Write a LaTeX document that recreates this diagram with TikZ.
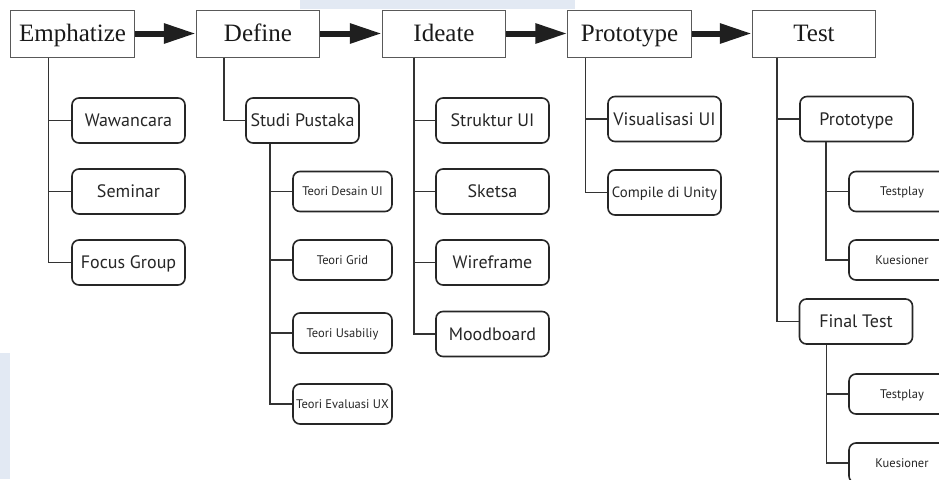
\documentclass[tikz,border=0pt]{standalone}
\usepackage{fontspec}
\setmainfont{Liberation Serif}
\newfontfamily\subfont{PT Sans}
\usetikzlibrary{arrows.meta}
\definecolor{wm}{RGB}{214,224,238}
\begin{document}
\begin{tikzpicture}[x=1pt,y=-1pt,
  phase/.style={draw=black!65, line width=1pt, fill=white, minimum height=47pt, minimum width=123.5pt, inner sep=0pt, text height=16.5pt, text depth=0pt, font=\fontsize{25}{25}\selectfont, text=black!90},
  sub/.style={draw=black!85, line width=1.6pt, rounded corners=7pt, fill=white, inner sep=0pt, text height=12.6pt, text depth=0pt, font=\subfont\fontsize{18}{18}\selectfont, text=black!85, minimum height=45pt, minimum width=113pt},
  small/.style={sub, minimum height=40pt, minimum width=99pt, text height=8.8pt, font=\subfont\fontsize{12.5}{12.5}\selectfont},
  tiny/.style={small, minimum width=106pt},
  link/.style={draw=black!80, line width=1.5pt},
  flow/.style={draw=black!88, line width=6pt, -{Triangle[length=32pt,width=19pt]}}
]
\useasboundingbox (0,0) rectangle (939,479);
\clip (0,0) rectangle (939,479);
\fill[white] (0,0) rectangle (939,479);
% faint watermark remnants
\fill[wm, opacity=0.7] (300,0) rectangle (575,9);
\fill[wm, opacity=0.7] (0,353) rectangle (10,479);

% phases
\node[phase] (emph) at (72.5,33.5) {Emphatize};
\node[phase] (def) at (258,33.5) {Define};
\node[phase] (ide) at (444,33.5) {Ideate};
\node[phase] (pro) at (629.5,33.5) {Prototype};
\node[phase] (tst) at (814,33.5) {Test};

\draw[flow] (emph.east) -- (def.west);
\draw[flow] (def.east) -- (ide.west);
\draw[flow] (ide.east) -- (pro.west);
\draw[flow] (pro.east) -- (tst.west);

% Emphatize
\node[sub] (waw) at (128.5,120.5) {Wawancara};
\node[sub] (sem) at (128.5,191.5) {Seminar};
\node[sub] (foc) at (128.5,262.5) {Focus Group};
\draw[link] (emph.south west) ++(38,0) |- (waw.west);
\draw[link] (emph.south west) ++(38,0) |- (sem.west);
\draw[link] (emph.south west) ++(38,0) |- (foc.west);

% Define
\node[sub] (stu) at (302.5,120.5) {Studi Pustaka};
\draw[link] (def.south west) ++(28,0) |- (stu.west);
\node[small] (t1) at (342.5,191.5) {Teori Desain UI};
\node[small] (t2) at (342.5,260) {Teori Grid};
\node[small] (t3) at (342.5,333) {Teori Usabiliy};
\node[small] (t4) at (342.5,404) {Teori Evaluasi UX};
\draw[link] (stu.south west) ++(25,0) |- (t1.west);
\draw[link] (stu.south west) ++(25,0) |- (t2.west);
\draw[link] (stu.south west) ++(25,0) |- (t3.west);
\draw[link] (stu.south west) ++(25,0) |- (t4.west);

% Ideate
\node[sub] (str) at (492.5,120.5) {Struktur UI};
\node[sub] (ske) at (492.5,191.5) {Sketsa};
\node[sub] (wir) at (492.5,262.5) {Wireframe};
\node[sub] (moo) at (492.5,334) {Moodboard};
\draw[link] (ide.south west) ++(32,0) |- (str.west);
\draw[link] (ide.south west) ++(32,0) |- (ske.west);
\draw[link] (ide.south west) ++(32,0) |- (wir.west);
\draw[link] (ide.south west) ++(32,0) |- (moo.west);

% Prototype
\node[sub] (vis) at (664.5,119) {Visualisasi UI};
\node[sub, text height=10.4pt, font=\subfont\fontsize{14.8}{14.8}\selectfont] (com) at (664.5,192.5) {Compile di Unity};
\draw[link] (pro.south west) ++(18,0) |- (vis.west);
\draw[link] (pro.south west) ++(18,0) |- (com.west);

% Test
\node[sub] (tpr) at (856.5,119) {Prototype};
\node[sub] (fin) at (856,321.5) {Final Test};
\draw[link] (tst.south west) ++(25,0) |- (tpr.west);
\draw[link] (tst.south west) ++(25,0) |- (fin.west);
\node[tiny] (tp1) at (902,191.5) {Testplay};
\node[tiny] (kq1) at (902,260) {Kuesioner};
\draw[link] (tpr.south west) ++(27,0) |- (tp1.west);
\draw[link] (tpr.south west) ++(27,0) |- (kq1.west);
\node[tiny] (tp2) at (902,394) {Testplay};
\node[tiny] (kq2) at (902,463) {Kuesioner};
\draw[link] (fin.south west) ++(28,0) |- (tp2.west);
\draw[link] (fin.south west) ++(28,0) |- (kq2.west);
\end{tikzpicture}
\end{document}
